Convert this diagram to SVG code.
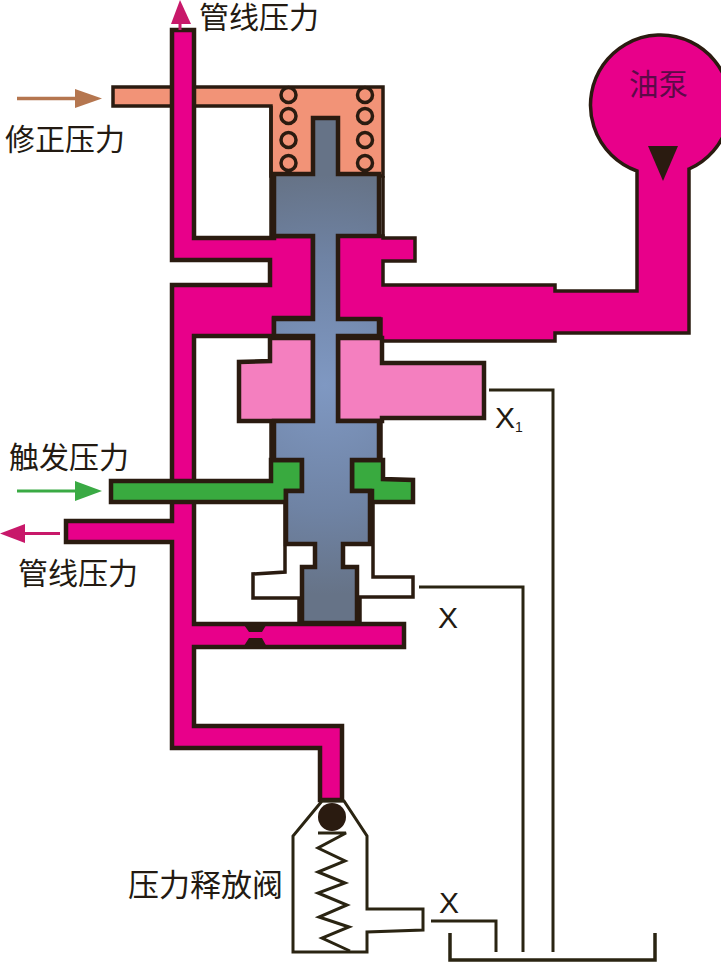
<svg xmlns="http://www.w3.org/2000/svg" width="721" height="962" viewBox="0 0 721 962">
<style>
.w{stroke:#2a1b10;stroke-width:4.5;stroke-linejoin:miter;fill:none}
.t{stroke-width:3.5}
.m{fill:#e8008a}
.o{fill:#f29377}
.p{fill:#f47fbf}
.g{fill:#39aa3f}
.l{stroke:#2a2412;stroke-width:3;fill:none}
.c{fill:none;stroke:#2a1b10;stroke-width:3.5}
text{font-family:"Liberation Sans","Noto Sans CJK SC",sans-serif;fill:#231a12;font-size:30px}
.x{font-size:30px}
</style>
<defs>
<radialGradient id="steel" gradientUnits="userSpaceOnUse" cx="325" cy="385" r="210">
<stop offset="0" stop-color="#7f98c2"/><stop offset="0.6" stop-color="#6f83a4"/><stop offset="1" stop-color="#667387"/>
</radialGradient>
</defs>
<rect width="721" height="962" fill="#fff"/>
<g id="correction-chamber">
<path class="o w t" d="M113,87 H383 V176 H271 V106 H113 Z"/>
<path class="w t" d="M271,106 V238 M383,176 V238"/>
</g>
<g id="main-line">
<path class="m w" d="M172,30 H194 V238 H274 V236 H313 V318 H274 V336 H194 V624 H404 V647 H194 V726 H342 V800 H320 V748 H172 V542 H66 V521 H172 V285 H270 V260 H172 Z"/>
</g>
<g id="pump">
<path class="m w t" d="M338,236 H383 V238 H415 V261 H383 V285 H555 V291 H637 V171 A70,70 0 1 1 689,169 V333 H555 V341 H381 V319 H338 Z"/>
<path fill="#2a1b10" d="M648,146 H678 L663,181 Z"/>
<text x="629" y="95" style="fill:#5c0a48;font-size:29.5px">油泵</text>
</g>
<g id="pink-chamber">
<path class="p w" d="M270,338 H313 V421 H239 V362 L270,361 Z"/>
<path class="p w" d="M338,338 H382 V363 H484 V418 H382 V421 H338 Z"/>
</g>
<g id="trigger-chamber">
<path class="g w" d="M111,481 H271 V460 H302 V491 H286 V502 H111 Z"/>
<path class="g w" d="M352,460 H383 V479 L413,480 V502 H372 V491 H352 Z"/>
<path class="w t" d="M271,421 V460 M381,421 V460"/>
</g>
<g id="exhaust-chamber">
<path class="w t" d="M285,502 V572 L253,574 V598 H299 V623"/>
<path class="w t" d="M373,502 V577 H413 V597 H360 V623"/>
</g>
<g id="spool">
<path class="w" style="fill:url(#steel)" d="M313,118 H338 V174 H379 V236 H338 V319 H379 V336 H338 V421 H379 V460 H352 V491 H370 V544 H343 V567 H357 V623 H302 V567 H315 V544 H286 V491 H302 V460 H274 V421 H313 V336 H274 V319 H313 V236 H274 V174 H313 Z"/>
</g>
<g id="spring">
<circle class="c" cx="288.500" cy="95" r="7.500"/><circle class="c" cx="288.500" cy="116" r="7.500"/><circle class="c" cx="288.500" cy="140" r="7.500"/><circle class="c" cx="288.500" cy="163" r="7.500"/>
<circle class="c" cx="365" cy="95" r="7.500"/><circle class="c" cx="365" cy="116" r="7.500"/><circle class="c" cx="365" cy="140" r="7.500"/><circle class="c" cx="365" cy="163" r="7.500"/>
</g>
<g id="orifice">
<path fill="#2a1b10" d="M242,622 H268 L262,632 H249 Z M249,638 H262 L268,649 H242 Z"/>
</g>
<g id="relief-valve">
<path class="l" d="M322,801 L293,836 V952 H367 V932 L423,930 V909 H367 V836 L344,801 Z"/>
<circle cx="332" cy="817" r="14" fill="#2a1b10"/>
<path class="l" d="M318,833 H346 L318,848 L345,861 L318,872 L345,883 L318,893 L347,905 L319,917 L349,927 L322,938 L350,951"/>
</g>
<g id="connectors">
<path class="l" d="M489,390 H553 V952"/>
<path class="l" d="M419,587 H523 V952"/>
<path class="l" d="M431,921 H496 V952"/>
<path class="l" style="stroke-width:3.500" d="M450,933 V960 H655 V933"/>
<g id="arrows">
<path fill="#c8186a" d="M180,0 L191,24 H171 Z"/><path stroke="#c8186a" stroke-width="3" d="M180,24 V30"/>
<path fill="#b5764f" d="M75,89 L102,98.500 L75,108 Z"/><path stroke="#b5764f" stroke-width="3.500" d="M17,98.500 H76"/>
<path fill="#3aaa44" d="M75,481 L102,491 L75,501 Z"/><path stroke="#3aaa44" stroke-width="3" d="M17,491 H76"/>
<path fill="#c8186a" d="M0,533.500 L25,524 V543 Z"/><path stroke="#c8186a" stroke-width="3" d="M24,533.500 H60"/>
</g>
</g>
<g id="labels">
<text x="199" y="28">管线压力</text>
<text x="5" y="150">修正压力</text>
<text x="9" y="468">触发压力</text>
<text x="18" y="584">管线压力</text>
<text x="128" y="896" style="font-size:31px">压力释放阀</text>
<text class="x" x="495" y="428">X<tspan dy="4" style="font-size:14px">1</tspan></text>
<text class="x" x="438" y="628">X</text>
<text class="x" x="439" y="913">X</text>
</g>
</svg>
